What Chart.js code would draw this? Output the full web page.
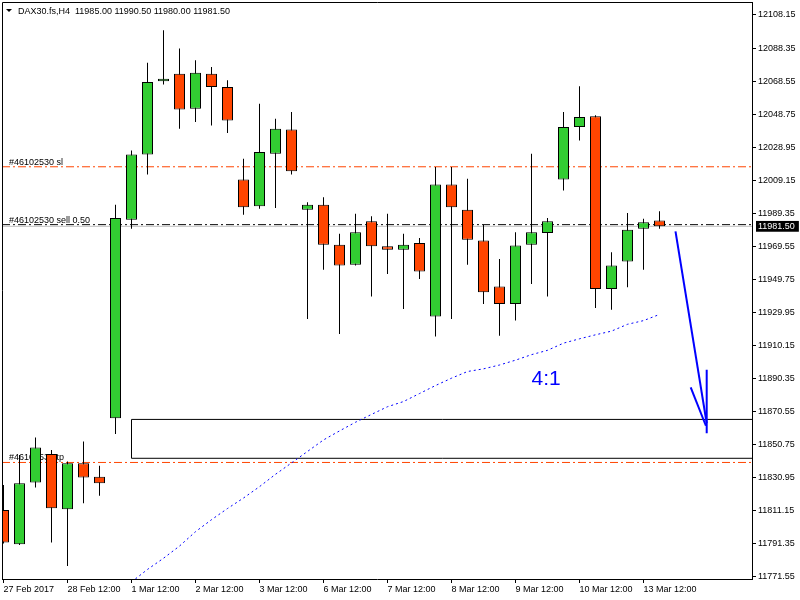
<!DOCTYPE html>
<html>
<head>
<meta charset="utf-8">
<title>DAX30.fs H4</title>
<script src="https://cdn.jsdelivr.net/npm/chart.js@4.4.1/dist/chart.umd.min.js"></script>
<style>
  html, body { margin: 0; padding: 0; background: #fff; }
  canvas { display: block; }
</style>
</head>
<body>
<canvas id="priceCanvas" width="800" height="600"></canvas>
<script>
// bars, 27 Feb 2017 12:00 .. 13 Mar 2017 16:00
const symbol = 'DAX30.fs,H4'
const opens = [11811.5, 11791.0, 11828.0, 11845.0, 11812.0, 11839.5, 11831.5, 11866.5,
    11985.5, 12024.5, 12068.5, 12073.0, 12052.0, 12073.0, 12065.0, 12009.5,
    11993.5, 12025.0, 12039.5, 11991.5, 11994.5, 11970.5, 11958.5, 11984.5,
    11969.5, 11967.5, 11971.5, 11927.5, 12006.5, 11991.5, 11973.0, 11945.5,
    11935.0, 11970.5, 11977.5, 12009.5, 12041.0, 12047.5, 11944.0, 11960.5,
    11980.0, 11985.0]
const highs = [11826.5, 11844.5, 11855.0, 11847.5, 11840.5, 11852.5, 11838.0, 11994.5,
    12027.0, 12079.5, 12099.0, 12088.0, 12081.0, 12077.0, 12069.0, 12022.0,
    12055.0, 12046.0, 12050.0, 11996.0, 11999.0, 11977.0, 11989.0, 11987.5,
    11989.0, 11977.0, 11974.5, 12017.0, 12017.0, 12010.0, 11982.5, 11962.0,
    11978.0, 12025.0, 11986.5, 12050.0, 12065.5, 12048.0, 11966.0, 11989.5,
    11986.0, 11990.5]
const lows = [11791.5, 11790.5, 11825.0, 11792.0, 11778.0, 11815.5, 11820.0, 11857.0,
    11980.0, 12012.5, 12066.5, 12040.0, 12044.0, 12042.0, 12037.5, 11988.5,
    11992.0, 11992.5, 12012.5, 11926.0, 11955.5, 11917.0, 11958.0, 11939.5,
    11953.0, 11932.0, 11950.0, 11915.5, 11926.0, 11958.5, 11935.0, 11916.0,
    11925.0, 11947.0, 11939.5, 12003.0, 12033.0, 11932.5, 11931.5, 11945.0,
    11955.5, 11980.0]
const closes = [11792.0, 11827.5, 11849.0, 11812.5, 11839.5, 11831.0, 11827.5, 11986.5,
    12024.5, 12068.0, 12070.0, 12051.5, 12073.5, 12065.0, 12045.0, 11993.0,
    12026.0, 12040.0, 12014.5, 11994.5, 11970.5, 11958.0, 11978.0, 11969.5,
    11967.5, 11970.5, 11954.5, 12006.5, 11993.0, 11973.5, 11942.0, 11935.0,
    11970.0, 11978.0, 11984.5, 12041.0, 12047.0, 11944.0, 11958.0, 11979.5,
    11984.0, 11981.5]

// dotted average, first value belongs to bar 8
const maStart = 8
const maValues = [11768.4, 11775.9, 11782.6, 11789.9, 11798.5, 11805.7, 11812.4, 11818.7,
    11825.5, 11832.9, 11839.7, 11846.6, 11853.5, 11858.9, 11864.1, 11868.8,
    11873.4, 11876.5, 11881.3, 11886.1, 11890.5, 11894.5, 11896.1, 11898.4,
    11901.3, 11904.6, 11907.2, 11911.5, 11914.1, 11916.5, 11918.7, 11922.8,
    11925.0, 11928.7]

const xTickLabels = ['27 Feb 2017', '28 Feb 12:00', '1 Mar 12:00', '2 Mar 12:00', '3 Mar 12:00',
    '6 Mar 12:00', '7 Mar 12:00', '8 Mar 12:00', '9 Mar 12:00', '10 Mar 12:00', '13 Mar 12:00']
const xTickStep = 4
const yTickValues = [12108.15, 12088.35, 12068.55, 12048.75, 12028.95, 12009.15, 11989.35,
    11969.55, 11949.75, 11929.95, 11910.15, 11890.35, 11870.55, 11850.75, 11830.95,
    11811.15, 11791.35, 11771.55]

// order 46102530
const bidPrice = 11981.5
const orderLabels = ['#46102530 sl', '#46102530 sell 0.50', '#46102530 tp']
const orderPrices = [12017.2, 11982.5, 11840.0]

// drawn objects
const boxBars = [8, 60]
const boxPrices = [11865.8, 11842.5]
const arrowShaftX = [42, 43.95]
const arrowShaftY = [11978.5, 11863.5]
const arrowHeadX = [42.95, 43.9]
const arrowHeadY = [11885.0, 11862.0]
const arrowStemX = [43.95, 43.95]
const arrowStemY = [11895.5, 11857.5]
const ratioText = '4:1'
const ratioAt = [33, 11886.4]

const xMin = -0.09375, xMax = 46.78125
const yMin = 11770.16, yMax = 12115.94

const bull = '#32cd32'
const bear = '#ff4500'
const fontFamily = '"Liberation Sans", Arial, sans-serif'
const smallFont = '9px ' + fontFamily

let priceChart = document.querySelector('#priceCanvas')
let priceChartFunc

const pts = (xs, ys) => xs.map((x, i) => ({ x: x, y: ys[i] }))

function hLine(price, color, dash, order) {
    return {
        type: 'line',
        data: [{ x: xMin, y: price }, { x: xMax, y: price }],
        borderColor: color,
        borderWidth: 1,
        borderDash: dash,
        pointRadius: 0,
        order: order
    }
}

const chartText = {
    id: 'chartText',
    beforeDatasetsDraw(chart) {
        const { ctx, chartArea } = chart
        const y = chart.scales.y
        ctx.save()
        ctx.font = smallFont
        ctx.fillStyle = '#000'
        ctx.textAlign = 'left'
        ctx.textBaseline = 'alphabetic'
        orderLabels.forEach((t, i) => {
            ctx.fillText(t, chartArea.left + 7, Math.round(y.getPixelForValue(orderPrices[i])) - 2)
        })
        ctx.restore()
    },
    afterDatasetsDraw(chart) {
        const { ctx, chartArea } = chart
        const x = chart.scales.x, y = chart.scales.y
        ctx.save()
        // frame on the left and top
        ctx.strokeStyle = '#000'
        ctx.lineWidth = 1
        ctx.beginPath()
        ctx.moveTo(chartArea.left + 0.5, chartArea.bottom)
        ctx.lineTo(chartArea.left + 0.5, chartArea.top + 0.5)
        ctx.lineTo(chartArea.right, chartArea.top + 0.5)
        ctx.stroke()

        // title with last bar values
        const n = closes.length - 1
        ctx.fillStyle = '#000'
        ctx.beginPath()
        ctx.moveTo(6, 9)
        ctx.lineTo(12, 9)
        ctx.lineTo(9, 12)
        ctx.closePath()
        ctx.fill()
        ctx.font = smallFont
        ctx.textBaseline = 'alphabetic'
        const vals = [opens[n], highs[n], lows[n], closes[n]].map(v => v.toFixed(2)).join(' ')
        ctx.fillText(symbol + '  ' + vals, 18, 14)

        ctx.fillStyle = '#0000ff'
        ctx.font = '21px ' + fontFamily
        ctx.fillText(ratioText, x.getPixelForValue(ratioAt[0]), y.getPixelForValue(ratioAt[1]))
        ctx.restore()
    }
}

if (priceChart) priceChartInit()

function priceChartInit() {
    const wicks = opens.map((o, i) => ({ x: i, y: [lows[i], highs[i]] }))
    const bodies = opens.map((o, i) => ({ x: i, y: [o, closes[i]] }))

    const config = {
        type: 'bar',
        data: {
            datasets: [
                hLine(orderPrices[0], bear, [8, 3, 2, 3], 9),
                hLine(bidPrice, '#c0c0c0', [], 8),
                hLine(orderPrices[1], '#000', [8, 3, 2, 3], 8),
                hLine(orderPrices[2], bear, [8, 3, 2, 3], 9),
                {
                    type: 'line',
                    data: pts([boxBars[0], boxBars[1], boxBars[1], boxBars[0], boxBars[0]],
                        [boxPrices[0], boxPrices[0], boxPrices[1], boxPrices[1], boxPrices[0]]),
                    borderColor: '#000',
                    borderWidth: 1,
                    pointRadius: 0,
                    order: 7
                },
                {
                    type: 'line',
                    data: maValues.map((v, i) => ({ x: maStart + i, y: v })),
                    borderColor: '#0000ff',
                    borderWidth: 1,
                    borderDash: [2, 3],
                    pointRadius: 0,
                    order: 6
                },
                {
                    data: wicks,
                    backgroundColor: '#000',
                    borderWidth: 0,
                    barThickness: 1,
                    grouped: false,
                    inflateAmount: 0,
                    order: 3
                },
                {
                    data: bodies,
                    backgroundColor: opens.map((o, i) => closes[i] >= o ? bull : bear),
                    borderColor: '#000',
                    borderWidth: 1,
                    borderSkipped: false,
                    barThickness: 11,
                    grouped: false,
                    inflateAmount: 0,
                    order: 2
                },
                {
                    type: 'line',
                    data: pts(arrowShaftX, arrowShaftY),
                    borderColor: '#0000ff',
                    borderWidth: 2,
                    pointRadius: 0,
                    order: 1
                },
                {
                    type: 'line',
                    data: pts(arrowHeadX, arrowHeadY),
                    borderColor: '#0000ff',
                    borderWidth: 2,
                    pointRadius: 0,
                    order: 1
                },
                {
                    type: 'line',
                    data: pts(arrowStemX, arrowStemY),
                    borderColor: '#0000ff',
                    borderWidth: 2,
                    pointRadius: 0,
                    order: 1
                }
            ]
        },

        options: {
            responsive: false,
            animation: false,
            layout: {
                padding: { left: 2, top: 2, right: 0, bottom: 0 }
            },
            plugins: {
                legend: { display: false },
                tooltip: { enabled: false }
            },
            scales: {
                x: {
                    type: 'linear',
                    offset: false,
                    min: xMin,
                    max: xMax,
                    bounds: 'data',
                    afterBuildTicks: s => { s.ticks = xTickLabels.map((t, i) => ({ value: i * xTickStep })) },
                    afterFit: s => {
                        s.height = 21
                        s.paddingLeft = 0
                        s.paddingRight = 0
                    },
                    grid: {
                        offset: false,
                        drawOnChartArea: false,
                        drawTicks: true,
                        tickLength: 4,
                        tickColor: '#000'
                    },
                    border: { display: true, color: '#000' },
                    ticks: {
                        align: 'start',
                        padding: 1,
                        maxRotation: 0,
                        autoSkip: false,
                        color: '#000',
                        font: { family: fontFamily, size: 9 },
                        callback: (v, i) => xTickLabels[i]
                    }
                },
                y: {
                    position: 'right',
                    min: yMin,
                    max: yMax,
                    bounds: 'data',
                    afterBuildTicks: s => {
                        s.ticks = yTickValues.concat([bidPrice]).sort((a, b) => a - b).map(v => ({ value: v }))
                    },
                    afterFit: s => {
                        s.width = 48
                        s.paddingTop = 0
                        s.paddingBottom = 0
                    },
                    grid: {
                        drawOnChartArea: false,
                        drawTicks: true,
                        tickLength: 4,
                        tickColor: c => c.tick && c.tick.value === bidPrice ? 'rgba(0,0,0,0)' : '#000'
                    },
                    border: { display: true, color: '#000' },
                    ticks: {
                        padding: 2,
                        autoSkip: false,
                        color: c => c.tick && c.tick.value === bidPrice ? '#fff' : '#000',
                        showLabelBackdrop: c => !!(c.tick && c.tick.value === bidPrice),
                        backdropColor: '#000',
                        backdropPadding: { left: 2, right: 4, top: 0, bottom: 0 },
                        font: { family: fontFamily, size: 9 },
                        callback: v => Number(v).toFixed(2)
                    }
                }
            }
        },
        plugins: [chartText]
    }

    priceChartFunc = new Chart(priceChart, config)
}
</script>
</body>
</html>
